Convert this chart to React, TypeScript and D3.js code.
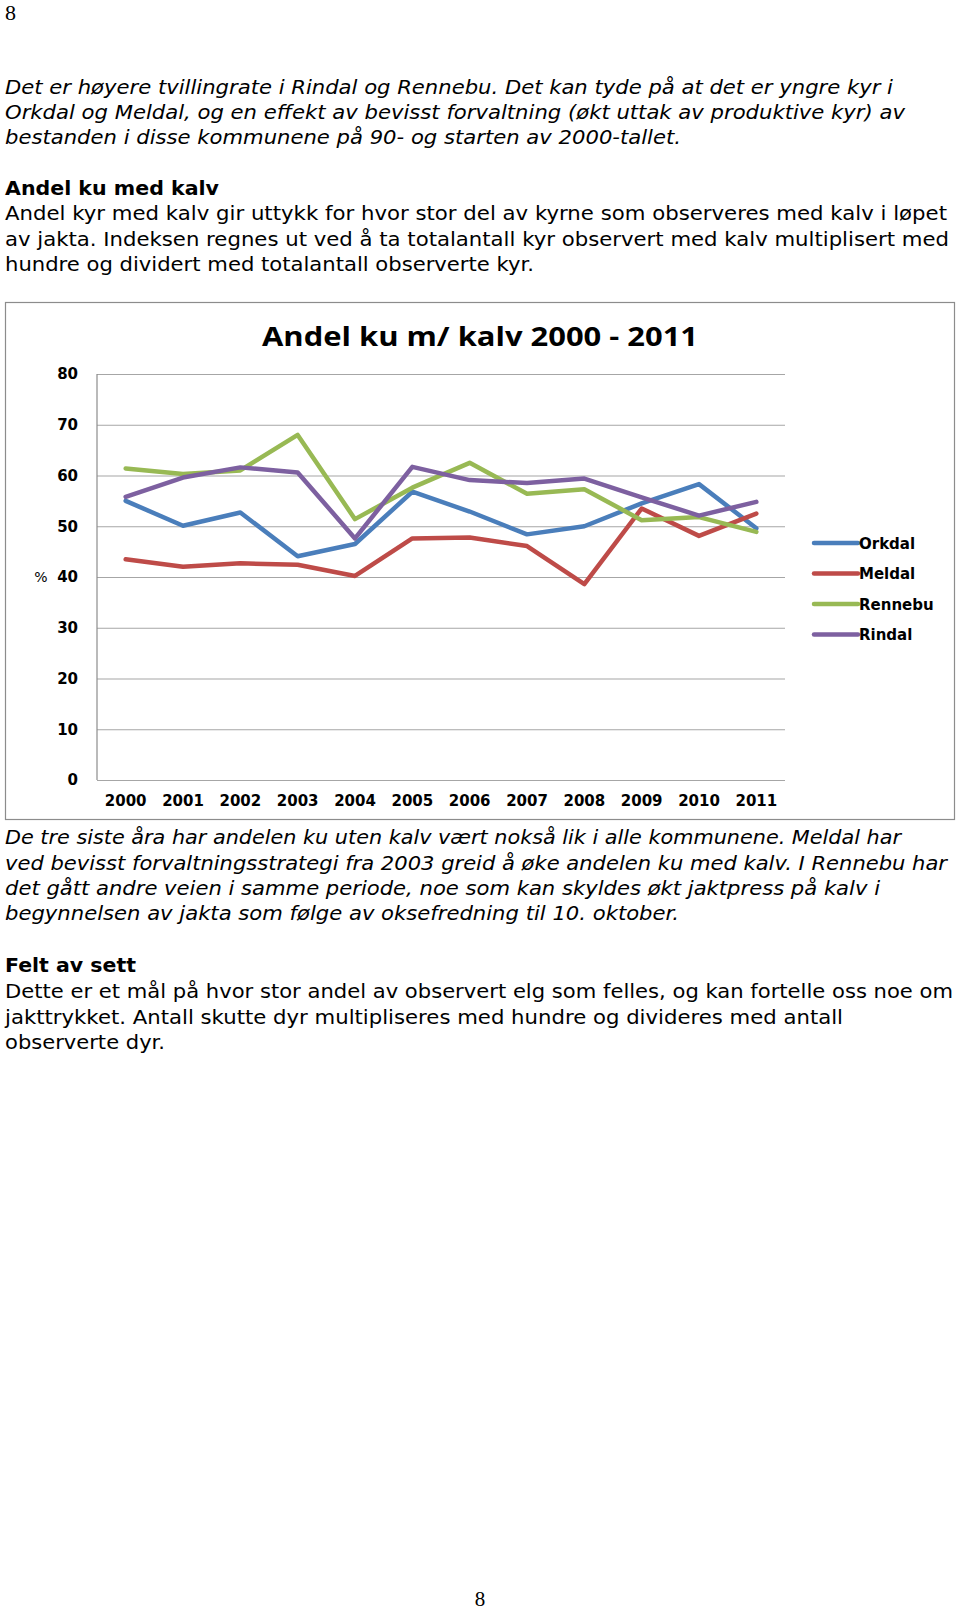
import { useEffect, useRef } from 'react'
import * as d3 from 'd3'

const years = ['2000', '2001', '2002', '2003', '2004', '2005', '2006', '2007', '2008', '2009', '2010', '2011']
const orkdal = [55.0, 50.1, 52.7, 44.1, 46.5, 56.8, 52.9, 48.4, 50.0, 54.5, 58.3, 49.6]
const meldal = [43.5, 42.0, 42.7, 42.4, 40.2, 47.6, 47.8, 46.1, 38.6, 53.5, 48.1, 52.5]
const rennebu = [61.4, 60.3, 61.0, 68.0, 51.4, 57.6, 62.5, 56.4, 57.3, 51.2, 51.8, 48.9]
const rindal = [55.8, 59.6, 61.6, 60.6, 47.6, 61.7, 59.1, 58.5, 59.4, 55.7, 52.1, 54.8]
const seriesNames = ['Orkdal', 'Meldal', 'Rennebu', 'Rindal']
const yTicks = [0, 10, 20, 30, 40, 50, 60, 70, 80]
const chartTitle = 'Andel ku m/ kalv 2000 - 2011'

const para1 = [
  'Det er høyere tvillingrate i Rindal og Rennebu. Det kan tyde på at det er yngre kyr i',
  'Orkdal og Meldal, og en effekt av bevisst forvaltning (økt uttak av produktive kyr) av',
  'bestanden i disse kommunene på 90- og starten av 2000-tallet.',
]
const heading1 = 'Andel ku med kalv'
const para2 = [
  'Andel kyr med kalv gir uttykk for hvor stor del av kyrne som observeres med kalv i løpet',
  'av jakta. Indeksen regnes ut ved å ta totalantall kyr observert med kalv multiplisert med',
  'hundre og dividert med totalantall observerte kyr.',
]
const para3 = [
  'De tre siste åra har andelen ku uten kalv vært nokså lik i alle kommunene. Meldal har',
  'ved bevisst forvaltningsstrategi fra 2003 greid å øke andelen ku med kalv. I Rennebu har',
  'det gått andre veien i samme periode, noe som kan skyldes økt jaktpress på kalv i',
  'begynnelsen av jakta som følge av oksefredning til 10. oktober.',
]
const heading2 = 'Felt av sett'
const para4 = [
  'Dette er et mål på hvor stor andel av observert elg som felles, og kan fortelle oss noe om',
  'jakttrykket. Antall skutte dyr multipliseres med hundre og divideres med antall',
  'observerte dyr.',
]

const colors = ['#4a7ebb', '#be4b48', '#98b954', '#7d60a0']
const bodyFont = '"DejaVu Sans", Verdana, sans-serif'

// text layout: [baseline, width]
const para1Layout = [[94, 888], [119, 900], [144, 676]]
const para2Layout = [[220, 942], [246, 944], [271, 529]]
const para3Layout = [[844, 896], [870, 942], [895, 875], [920, 674]]
const para4Layout = [[998, 948], [1024, 838], [1049, 160]]

function Lines({ lines, layout, italic }: { lines: string[]; layout: number[][]; italic?: boolean }) {
  return (
    <>
      {lines.map((t, i) => (
        <text
          key={i}
          x={5}
          y={layout[i][0]}
          fontSize={19}
          fontFamily={bodyFont}
          fontStyle={italic ? 'italic' : 'normal'}
          textLength={layout[i][1]}
          lengthAdjust="spacingAndGlyphs"
          fill="#000"
        >
          {t}
        </text>
      ))}
    </>
  )
}

function Chart() {
  const ref = useRef<SVGGElement>(null)

  useEffect(() => {
    if (!ref.current) return
    const g = d3.select(ref.current)
    g.selectAll('*').remove()

    const left = 97
    const right = 785
    const top = 374
    const bottom = 780

    const x = d3.scaleBand().domain(years).range([left, right])
    const y = d3.scaleLinear().domain([0, 80]).range([bottom, top])

    // frame
    g.append('rect')
      .attr('x', 5.5)
      .attr('y', 302.5)
      .attr('width', 949)
      .attr('height', 517)
      .attr('fill', '#fff')
      .attr('stroke', '#8c8c8c')
      .attr('stroke-width', 1.2)

    g.append('text')
      .attr('x', 480)
      .attr('y', 346)
      .attr('text-anchor', 'middle')
      .attr('font-family', '"Open Sans", "Liberation Sans", sans-serif')
      .attr('font-weight', 'bold')
      .attr('font-size', 27)
      .attr('textLength', 436)
      .attr('lengthAdjust', 'spacingAndGlyphs')
      .text(chartTitle)

    // gridlines + y labels
    const yAxis = g.append('g')
      .attr('transform', `translate(${left},0)`)
      .call(d3.axisLeft(y).tickValues(yTicks).tickSize(-(right - left)).tickPadding(19))
    yAxis.select('.domain').remove()
    yAxis.selectAll('.tick line')
      .attr('stroke', '#a6a6a6')
      .attr('stroke-width', 1.2)
    yAxis.selectAll('.tick text')
      .attr('fill', '#000')
      .attr('font-family', bodyFont)
      .attr('font-weight', 'bold')
      .attr('font-size', 15)

    g.append('line')
      .attr('x1', left)
      .attr('x2', left)
      .attr('y1', top)
      .attr('y2', bottom)
      .attr('stroke', '#8c8c8c')
      .attr('stroke-width', 1.2)

    const xAxis = g.append('g')
      .attr('transform', `translate(0,${bottom})`)
      .call(d3.axisBottom(x).tickSize(0).tickPadding(15))
    xAxis.select('.domain').remove()
    xAxis.selectAll('.tick text')
      .attr('fill', '#000')
      .attr('font-family', bodyFont)
      .attr('font-weight', 'bold')
      .attr('font-size', 15)

    g.append('text')
      .attr('x', 41)
      .attr('y', y(40) + 5)
      .attr('text-anchor', 'middle')
      .attr('font-family', bodyFont)
      .attr('font-size', 14)
      .text('%')

    const data = [orkdal, meldal, rennebu, rindal]
    const line = d3.line<number>()
      .x((_, i) => (x(years[i]) ?? 0) + x.bandwidth() / 2)
      .y(d => y(d))

    data.forEach((s, i) => {
      g.append('path')
        .datum(s)
        .attr('fill', 'none')
        .attr('stroke', colors[i])
        .attr('stroke-width', 4.5)
        .attr('stroke-linejoin', 'round')
        .attr('stroke-linecap', 'round')
        .attr('d', line)
    })

    // legend
    const legend = g.append('g').attr('transform', 'translate(814,543)')
    seriesNames.forEach((name, i) => {
      const row = legend.append('g').attr('transform', `translate(0,${i * 30.5})`)
      row.append('line')
        .attr('x1', 0)
        .attr('x2', 44)
        .attr('stroke', colors[i])
        .attr('stroke-width', 4.5)
        .attr('stroke-linecap', 'round')
      row.append('text')
        .attr('x', 45)
        .attr('y', 5.5)
        .attr('font-family', bodyFont)
        .attr('font-weight', 'bold')
        .attr('font-size', 15)
        .text(name)
    })
  }, [])

  return <g ref={ref} />
}

export default function App() {
  return (
    <div style={{ position: 'absolute', left: 0, top: 0 }}>
      <svg width={960} height={1613} style={{ display: 'block', background: '#fff' }}>
        <text x={5} y={20} fontFamily='"Liberation Serif", serif' fontSize={22}>8</text>
        <Lines lines={para1} layout={para1Layout} italic />
        <text x={5} y={195} fontSize={19} fontFamily={bodyFont} fontWeight="bold" textLength={214} lengthAdjust="spacingAndGlyphs">
          {heading1}
        </text>
        <Lines lines={para2} layout={para2Layout} />
        <Chart />
        <Lines lines={para3} layout={para3Layout} italic />
        <text x={5} y={972} fontSize={19} fontFamily={bodyFont} fontWeight="bold" textLength={131} lengthAdjust="spacingAndGlyphs">
          {heading2}
        </text>
        <Lines lines={para4} layout={para4Layout} />
        <text x={480} y={1606} textAnchor="middle" fontFamily='"Liberation Serif", serif' fontSize={21}>8</text>
      </svg>
    </div>
  )
}
